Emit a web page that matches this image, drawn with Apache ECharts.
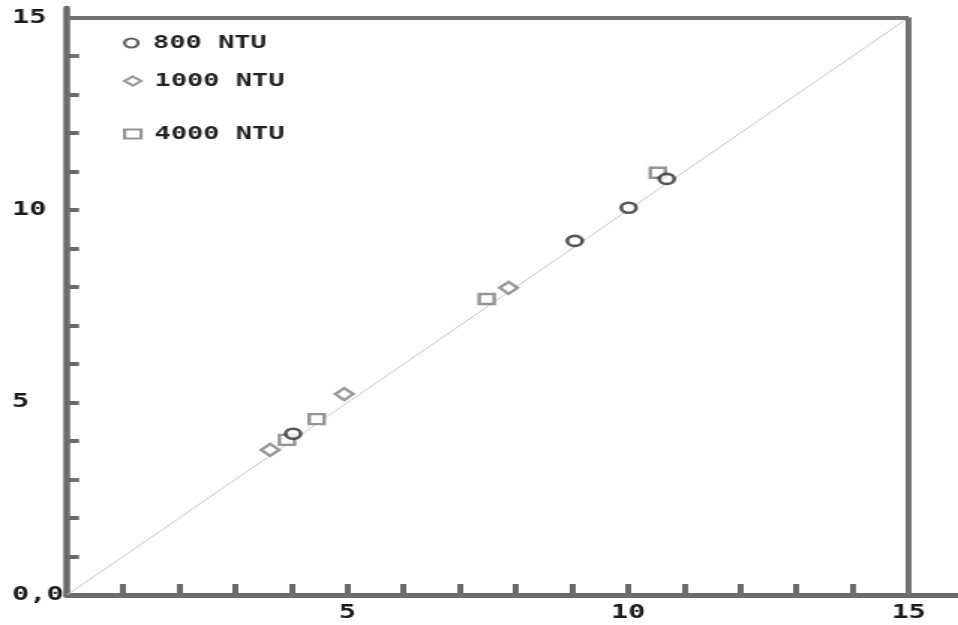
<!DOCTYPE html>
<html>
<head>
<meta charset="utf-8">
<script src="https://cdn.jsdelivr.net/npm/echarts@6/dist/echarts.min.js"></script>
<style>
  html, body { margin: 0; padding: 0; background: #fff; overflow: hidden; }
  #wrap { width: 958px; height: 625px; overflow: hidden; }
  /* the plot is laid out narrow and widened horizontally */
  #chart { width: 639px; height: 625px; transform: scaleX(1.4992); transform-origin: 0 0; }
</style>
</head>
<body>
<div id="wrap"><div id="chart"></div></div>
<script>
// measured vs. predicted values for three turbidity levels
const ntu800  = [[4.03, 4.19], [9.05, 9.20], [10.01, 10.06], [10.69, 10.81]];
const ntu1000 = [[3.62, 3.77], [4.94, 5.22], [7.87, 7.98]];
const ntu4000 = [[3.92, 4.03], [4.45, 4.57], [7.48, 7.69], [10.53, 10.97]];

// 1:1 reference line
const identityLine = [[0, 0], [15, 15]];

// axis ticks and labels
const tickValues = [1, 2, 3, 4, 5, 6, 7, 8, 9, 10, 11, 12, 13, 14, 15];
const xLabelValues = [5, 10, 15];
const yLabelValues = [0, 5, 10, 15];
const yLabelTexts = ['0,0', '5', '10', '15'];
const seriesNames = ['800 NTU', '1000 NTU', '4000 NTU'];

const FONT = 'DejaVu Sans Mono';
const AXIS = '#6b6b6b';

const chart = echarts.init(document.getElementById('chart'), null, { renderer: 'canvas' });

function legendBox(name, top, icon, border) {
  return {
    data: [{ name: name, icon: icon, itemStyle: { color: '#fff', borderColor: border, borderWidth: 2.2 } }],
    left: 82, top: top, padding: 0,
    itemWidth: 11, itemHeight: 9, symbolKeepAspect: false,
    selectedMode: false,
    textStyle: { fontFamily: FONT, fontSize: 18, fontWeight: 'bold', color: '#222', lineHeight: 20, padding: [0, 0, 0, 4] }
  };
}

chart.setOption({
  animation: false,
  backgroundColor: '#fff',
  grid: { left: 44.7, right: 0, top: 8, bottom: 30, containLabel: false },
  legend: [
    legendBox(seriesNames[0], 33, 'circle', '#3a3a3a'),
    legendBox(seriesNames[1], 71, 'diamond', '#808080'),
    legendBox(seriesNames[2], 124, 'rect', '#7a7a7a')
  ],
  xAxis: {
    type: 'value', min: 0, max: 15.88,
    splitLine: { show: false },
    axisLine: { show: true, onZero: false, lineStyle: { color: AXIS, width: 5 } },
    axisTick: { show: true, inside: true, length: 11, lineStyle: { color: AXIS, width: 4 }, customValues: tickValues },
    axisLabel: {
      customValues: xLabelValues, margin: 9,
      fontFamily: FONT, fontSize: 19, fontWeight: 'bold', color: '#1a1a1a',
      formatter: v => String(v)
    }
  },
  yAxis: {
    type: 'value', min: 0, max: 15.25,
    splitLine: { show: false },
    axisLine: { show: true, onZero: false, lineStyle: { color: AXIS, width: 4.5 } },
    axisTick: { show: true, inside: true, length: 8, lineStyle: { color: AXIS, width: 4 }, customValues: tickValues },
    axisLabel: {
      customValues: yLabelValues, margin: 36.7, align: 'left',
      fontFamily: FONT, fontSize: 19, fontWeight: 'bold', color: '#1a1a1a',
      formatter: v => yLabelTexts[yLabelValues.indexOf(v)]
    }
  },
  series: [
    {
      type: 'line', data: identityLine, silent: true, symbol: 'none', z: 1,
      lineStyle: { color: '#c8c8c8', width: 1 },
      markLine: {
        silent: true, symbol: 'none', label: { show: false },
        lineStyle: { color: '#737373', width: 4, type: 'solid' },
        data: [
          [{ coord: [0, 15] }, { coord: [15, 15] }],
          [{ coord: [15, 0] }, { coord: [15, 15] }]
        ]
      }
    },
    {
      name: seriesNames[2], type: 'scatter', data: ntu4000, symbol: 'rect', symbolSize: 10, z: 3,
      itemStyle: { color: '#fff', borderColor: '#7a7a7a', borderWidth: 2.4 }
    },
    {
      name: seriesNames[1], type: 'scatter', data: ntu1000, symbol: 'diamond', symbolSize: 12, z: 4,
      itemStyle: { color: '#fff', borderColor: '#808080', borderWidth: 2.4 }
    },
    {
      name: seriesNames[0], type: 'scatter', data: ntu800, symbol: 'circle', symbolSize: 10, z: 5,
      itemStyle: { color: '#fff', borderColor: '#2e2e2e', borderWidth: 2.6 }
    }
  ]
});
</script>
</body>
</html>
